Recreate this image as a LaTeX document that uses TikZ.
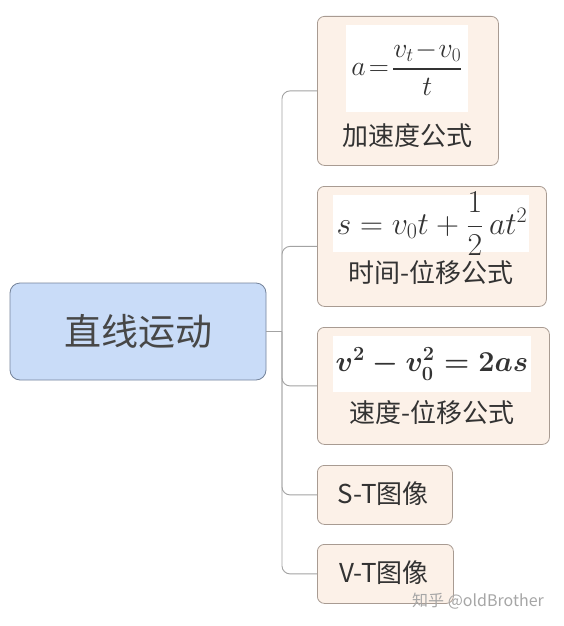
\documentclass[tikz,border=0pt]{standalone}
\usepackage{amsmath}
\usepackage{amssymb}
\usepackage{graphicx}
\usepackage{fontspec}
\newfontfamily\cjk{Noto Sans CJK SC}
\definecolor{rootfill}{HTML}{C9DCF8}
\definecolor{rootdraw}{HTML}{75849B}
\definecolor{kidfill}{HTML}{FCF1E8}
\definecolor{kiddraw}{HTML}{A89B92}
\definecolor{linec}{HTML}{A3A3A3}
\definecolor{txt}{HTML}{333333}
\tikzset{
  rootbox/.style={draw=rootdraw, fill=rootfill, rounded corners=10pt, line width=0.8pt, inner sep=0pt},
  kidbox/.style={draw=kiddraw, fill=kidfill, rounded corners=7pt, line width=0.8pt, anchor=north west, inner sep=0pt},
  formbox/.style={fill=white, anchor=north west, inner sep=0pt},
  conn/.style={draw=linec, line width=0.9pt, rounded corners=8pt},
  lab/.style={text=txt, font=\cjk\fontsize{26}{30}\selectfont, inner sep=0pt},
}
\begin{document}
\begin{tikzpicture}[x=1pt,y=-1pt]
\useasboundingbox (0,0) rectangle (564,626);
\fill[white] (0,0) rectangle (564,626);
% root
\node[rootbox, minimum width=256pt, minimum height=97pt] (root) at (138,331.5) {};
\node[text=txt!90, font=\cjk\fontsize{37}{40}\selectfont, inner sep=0pt] (roottxt) at (138,331) {直线运动};
% children
\node[kidbox, minimum width=181pt, minimum height=149pt] (k1) at (317,16) {};
\node[kidbox, minimum width=229pt, minimum height=120pt] (k2) at (317,186) {};
\node[kidbox, minimum width=232pt, minimum height=117pt] (k3) at (317,327) {};
\node[kidbox, minimum width=135pt, minimum height=59pt] (k4) at (317,465) {};
\node[kidbox, minimum width=136pt, minimum height=59pt] (k5) at (317,544) {};
% formula areas
\node[formbox, minimum width=122pt, minimum height=87pt] (f1) at (346,25) {};
\node[formbox, minimum width=196pt, minimum height=57pt] (f2) at (333,195) {};
\node[formbox, minimum width=198pt, minimum height=56pt] (f3) at (333,336) {};
\node[inner sep=0pt, text=txt] (m1) at (407,68) {\scalebox{1.12}{\fontsize{24}{28}\selectfont $a\!=\!\dfrac{v_{t}\!-\!v_0}{t}$}};
\node[inner sep=0pt, text=txt] (m2) at (432,224) {\scalebox{1.28}{\fontsize{24}{28}\selectfont $s=v_0t+\dfrac{1}{2}\,at^2$}};
\node[inner sep=0pt, text=txt] (m3) at (432,364) {\scalebox{1.16}{\fontsize{24}{28}\selectfont\boldmath $v^2-v_0^2=2as$}};
% labels
\node[lab] (l1) at (407,136) {加速度公式};
\node[lab] (l2) at (431,273) {时间-位移公式};
\node[lab] (l3) at (432,413) {速度-位移公式};
\node[lab] (l4) at (383,494) {S-T图像};
\node[lab] (l5) at (384,573) {V-T图像};
% connectors
\coordinate (trunk) at (282,331.5);
\draw[conn] (root.east) -- (trunk);
\draw[conn] (trunk) |- (k1.west);
\draw[conn] (trunk) |- (k2.west);
\draw[conn] (trunk) |- (k3.west);
\draw[conn] (trunk) |- (k4.west);
\draw[conn] (trunk) |- (k5.west);
% watermark
\node[text=black!35, font=\cjk\fontsize{16}{18}\selectfont, inner sep=0pt, anchor=west] (wm) at (412,601) {知乎 @oldBrother};
\end{tikzpicture}
\end{document}
